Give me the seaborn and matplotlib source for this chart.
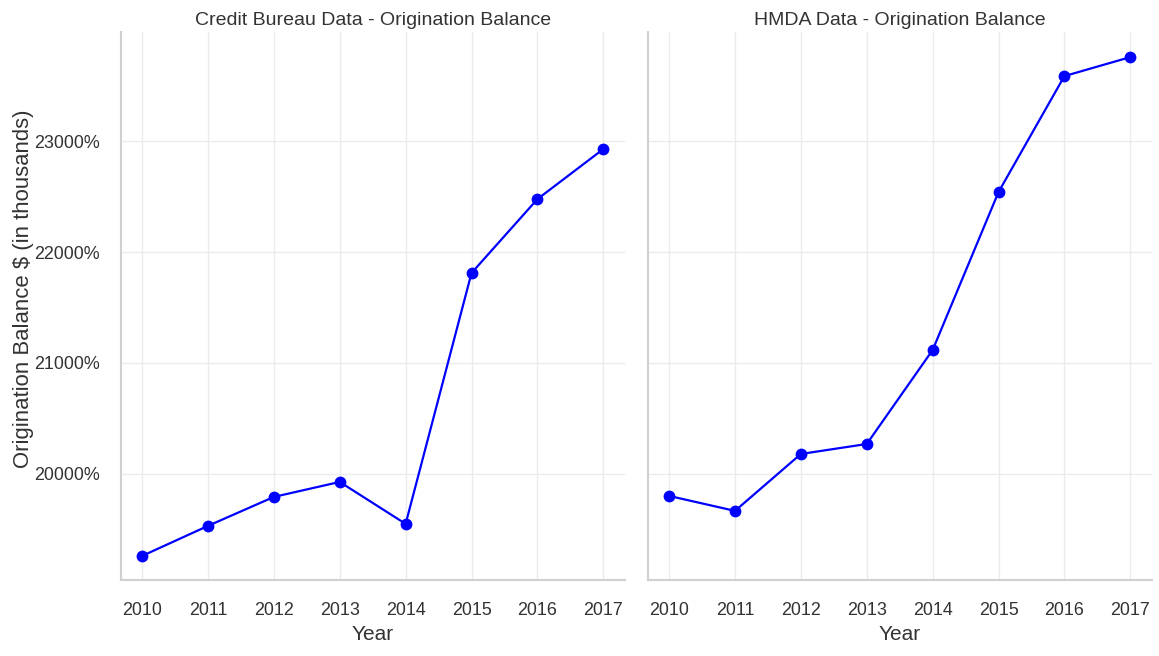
import matplotlib
matplotlib.use("Agg")
import matplotlib.pyplot as plt
import matplotlib.ticker as mticker
import seaborn as sns
import pandas as pd

# data
years = [2010, 2011, 2012, 2013, 2014, 2015, 2016, 2017]
credit_bureau = [19261, 19532, 19793, 19928, 19550, 21811, 22477, 22928]
hmda = [19802, 19667, 20180, 20270, 21117, 22541, 23586, 23757]
panel_titles = ["Credit Bureau Data - Origination Balance", "HMDA Data - Origination Balance"]

df = pd.concat([
    pd.DataFrame({"Year": years, "Balance": credit_bureau, "Source": panel_titles[0]}),
    pd.DataFrame({"Year": years, "Balance": hmda, "Source": panel_titles[1]}),
])

sns.set_theme(style="whitegrid")
plt.rcParams["font.family"] = ["Liberation Sans", "DejaVu Sans"]
plt.rcParams["text.color"] = "#333333"
plt.rcParams["axes.labelcolor"] = "#333333"
plt.rcParams["xtick.color"] = "#333333"
plt.rcParams["ytick.color"] = "#333333"

fig, axes = plt.subplots(1, 2, figsize=(11.59, 6.56), dpi=100, sharey=True)
fig.subplots_adjust(left=0.1044, right=0.994, top=0.951, bottom=0.116, wspace=0.0456)

for ax, title in zip(axes, panel_titles):
    sub = df[df["Source"] == title]
    sns.lineplot(data=sub, x="Year", y="Balance", ax=ax, color="#0000FF",
                 linewidth=1.6, marker="o", markersize=8.5, markeredgewidth=0)
    ax.set_title(title, fontsize=14, pad=5)
    ax.set_xlim(2009.68, 2017.33)
    ax.set_ylim(19045, 23982)
    ax.set_xticks(years)
    ax.set_yticks([20000, 21000, 22000, 23000])
    ax.yaxis.set_major_formatter(mticker.FuncFormatter(lambda v, p: f"{v:.0f}%"))
    ax.tick_params(axis="both", labelsize=12.9, length=0)
    ax.tick_params(axis="x", pad=16)
    ax.tick_params(axis="y", pad=15)
    ax.grid(True, color="#ebebeb", linewidth=1)
    for s in ["top", "right"]:
        ax.spines[s].set_visible(False)
    for s in ["left", "bottom"]:
        ax.spines[s].set_color("#d0d0d0")
        ax.spines[s].set_linewidth(1.5)
    ax.set_xlabel("Year", fontsize=15, labelpad=4)

axes[0].set_ylabel("Origination Balance $ (in thousands)", fontsize=15.9, labelpad=0)
axes[0].yaxis.label.set_y(0.531)
axes[1].set_ylabel("")
axes[1].tick_params(axis="y", labelleft=False)

fig.savefig("out.png", dpi=100)
